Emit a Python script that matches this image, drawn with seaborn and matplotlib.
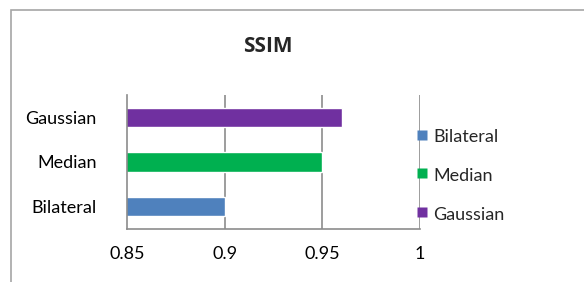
import matplotlib
matplotlib.use("Agg")
import matplotlib.pyplot as plt
import seaborn as sns
import pandas as pd
from matplotlib.patches import Rectangle
from matplotlib.lines import Line2D

categories = ["Gaussian", "Median", "Bilateral"]
values = [0.96, 0.95, 0.90]
legend_order = ["Bilateral", "Median", "Gaussian"]
colors = {"Bilateral": "#4F81BD", "Median": "#00B050", "Gaussian": "#7030A0"}
xticks = [0.85, 0.9, 0.95, 1.0]
xticklabels = ["0.85", "0.9", "0.95", "1"]

sns.set_style("white")
plt.rcParams["font.family"] = ["Lato", "DejaVu Sans"]

df = pd.DataFrame({"method": categories, "ssim": values})

fig = plt.figure(figsize=(5.84, 2.82), dpi=100)
ax = fig.add_axes([127/584, 1-229/282, (420-127)/584, (229-95)/282])

sns.barplot(data=df, x="ssim", y="method", hue="method", order=categories,
            palette=colors, orient="h", width=0.44, legend=False, ax=ax,
            saturation=1)

ax.set_xlim(0.85, 1.0)
ax.set_ylim(2.5, -0.5)
ax.set_xticks(xticks)
ax.set_xticklabels(xticklabels)
ax.set_yticks([0, 1, 2])
ax.set_yticklabels(categories)
ax.set_xlabel("")
ax.set_ylabel("")

grid_c = "#8c8c8c"
for x in xticks[1:]:
    ax.axvline(x, color=grid_c, lw=1.2, zorder=0)
ax.set_axisbelow(True)

for s in ["top", "right"]:
    ax.spines[s].set_visible(False)
for s in ["left", "bottom"]:
    ax.spines[s].set_color(grid_c)
    ax.spines[s].set_linewidth(1.2)

ax.set_yticks([-0.5, 0.5, 1.5, 2.5], minor=True)
ax.tick_params(axis="y", which="major", length=0, labelsize=13, pad=22, colors="black")
ax.tick_params(axis="y", which="minor", length=4, width=1.2, color=grid_c, direction="out")
ax.tick_params(axis="x", which="major", length=4, width=1.2, color=grid_c, direction="out",
               labelsize=13, labelcolor="black", pad=8)

fig.text(268/584, 1-47/282, "SSIM", ha="center", va="center", fontsize=15,
         fontweight="bold", family=["Open Sans", "DejaVu Sans"])

handles = [Line2D([], [], ls="none", marker="s", markersize=7.5,
                  markerfacecolor=colors[k], markeredgecolor="none") for k in legend_order]
fig.legend(handles, legend_order, loc="center left", bbox_to_anchor=(400/584, 1-175/282),
           frameon=False, fontsize=13, handlelength=0.6, handleheight=1.0,
           handletextpad=0.35, labelspacing=1.2)

fig.patches.append(Rectangle((11/584, -0.1), 1.2, 1-10/282+0.1, transform=fig.transFigure,
                             fill=False, edgecolor="#a6a6a6", lw=1.2))

fig.savefig("out.png", dpi=100)
